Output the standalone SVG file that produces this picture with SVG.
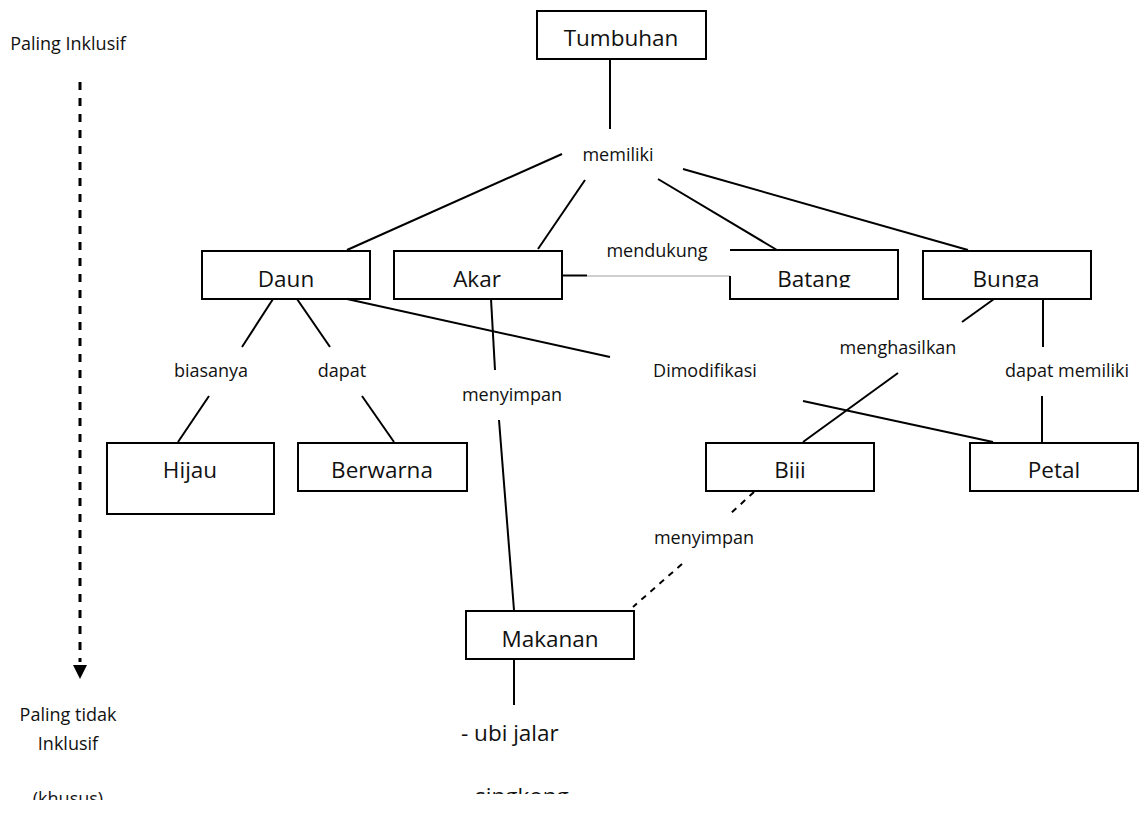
<svg xmlns="http://www.w3.org/2000/svg" width="1142" height="816" viewBox="0 0 1142 816">
<style>
.box{fill:#fff;stroke:#000;stroke-width:2}
.big{font-family:"Open Sans","Liberation Sans",sans-serif;font-size:22.5px;fill:#111;text-anchor:middle}
.lbl{font-family:"Open Sans","Liberation Sans",sans-serif;font-size:18px;fill:#111;text-anchor:middle}
.ln{stroke:#000;stroke-width:2;fill:none}
.dash{stroke:#000;stroke-width:2;fill:none;stroke-dasharray:6 6}
</style>
<defs>
<clipPath id="clipRow"><rect x="0" y="0" width="1142" height="287.5"/></clipPath>
<clipPath id="clipBiji"><rect x="0" y="0" width="1142" height="478.5"/></clipPath>
<clipPath id="clipBottom"><rect x="0" y="0" width="1142" height="800"/></clipPath>
<clipPath id="clipSing"><rect x="0" y="0" width="1142" height="794"/></clipPath>
</defs>
<rect width="1142" height="816" fill="#fff"/>

<g id="connectors">
<line class="ln" x1="610" y1="59" x2="610" y2="129"/>
<line class="ln" x1="562" y1="154" x2="347" y2="250"/>
<line class="ln" x1="585" y1="180" x2="538" y2="249"/>
<line class="ln" x1="658" y1="179" x2="777" y2="250"/>
<line class="ln" x1="683" y1="169" x2="968" y2="250"/>
<line class="ln" x1="562" y1="275.5" x2="587" y2="275.5"/>
<line x1="587" y1="276" x2="730" y2="276" stroke="#a0a0a0" stroke-width="1"/>
<line class="ln" x1="273" y1="299" x2="242" y2="347"/>
<line class="ln" x1="297" y1="299" x2="330" y2="347"/>
<line class="ln" x1="209" y1="396" x2="178" y2="442"/>
<line class="ln" x1="362" y1="396" x2="394" y2="442"/>
<line class="ln" x1="347" y1="299" x2="610" y2="357"/>
<line class="ln" x1="803" y1="401" x2="993" y2="442"/>
<line class="ln" x1="491" y1="299" x2="495" y2="370"/>
<line class="ln" x1="499" y1="420" x2="514" y2="610"/>
<line class="ln" x1="994" y1="299" x2="962" y2="322"/>
<line class="ln" x1="898" y1="373" x2="803" y2="442"/>
<line class="ln" x1="1043" y1="299" x2="1043" y2="347"/>
<line class="ln" x1="1042" y1="396" x2="1042" y2="442"/>
<line class="dash" x1="754" y1="492" x2="730" y2="514"/>
<line class="dash" x1="682" y1="564" x2="633" y2="607"/>
<line class="ln" x1="514" y1="659" x2="514" y2="705"/>
<line x1="80" y1="82" x2="80" y2="662" stroke="#000" stroke-width="3" stroke-dasharray="8 8"/>
<polygon points="73,665 87,665 80,679" fill="#000"/>
</g>

<g id="node-tumbuhan"><rect class="box" x="537" y="11" width="169" height="48"/><text class="big" x="621" y="46">Tumbuhan</text></g>
<g id="node-daun"><rect class="box" x="202" y="251" width="168" height="48"/><text class="big" x="286" y="287">Daun</text></g>
<g id="node-akar"><rect class="box" x="394" y="251" width="168" height="48"/><text class="big" x="477" y="287">Akar</text></g>
<g id="node-batang">
<path class="ln" d="M730,250 H898 V299 H730 V276"/>
<text class="big" x="814" y="287" clip-path="url(#clipRow)">Batang</text>
</g>
<g id="node-bunga"><rect class="box" x="923" y="251" width="168" height="48"/><text class="big" x="1006" y="287" clip-path="url(#clipRow)">Bunga</text></g>
<g id="node-hijau"><rect class="box" x="107" y="443" width="167" height="71"/><text class="big" x="190" y="478">Hijau</text></g>
<g id="node-berwarna"><rect class="box" x="298" y="443" width="169" height="48"/><text class="big" x="382" y="478">Berwarna</text></g>
<g id="node-biji"><rect class="box" x="706" y="443" width="168" height="48"/><text class="big" x="790" y="478" clip-path="url(#clipBiji)">Biji</text></g>
<g id="node-petal"><rect class="box" x="970" y="443" width="168" height="48"/><text class="big" x="1054" y="478">Petal</text></g>
<g id="node-makanan"><rect class="box" x="466" y="611" width="168" height="48"/><text class="big" x="550" y="647">Makanan</text></g>

<g id="labels">
<text class="lbl" x="618" y="161">memiliki</text>
<text class="lbl" x="657" y="257">mendukung</text>
<text class="lbl" x="211" y="377">biasanya</text>
<text class="lbl" x="342" y="377">dapat</text>
<text class="lbl" x="512" y="401">menyimpan</text>
<text class="lbl" x="705" y="377">Dimodifikasi</text>
<text class="lbl" x="898" y="354">menghasilkan</text>
<text class="lbl" x="1067" y="377">dapat memiliki</text>
<text class="lbl" x="704" y="544">menyimpan</text>
<text class="lbl" x="68" y="50">Paling Inklusif</text>
<text class="lbl" x="68" y="721">Paling tidak</text>
<text class="lbl" x="68" y="750">Inklusif</text>
<text class="lbl" x="68" y="805" clip-path="url(#clipBottom)">(khusus)</text>
<text class="big" x="461" y="741" style="text-anchor:start">- ubi jalar</text>
<text class="big" x="475" y="804" style="text-anchor:start" clip-path="url(#clipSing)">singkong</text>
</g>
</svg>
